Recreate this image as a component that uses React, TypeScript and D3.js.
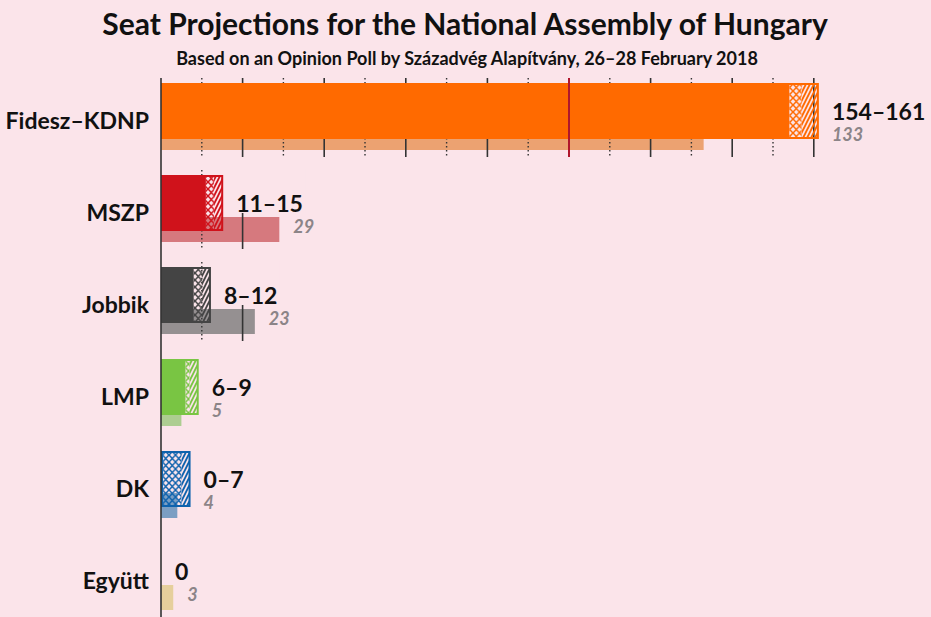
import React from 'react';
import * as d3 from 'd3';

const parties = ['Fidesz–KDNP', 'MSZP', 'Jobbik', 'LMP', 'DK', 'Együtt'];
const colors = ['#ff6a00', '#d0121b', '#444444', '#79c543', '#0e62ad', '#f2c95a'];
// 95% interval bounds and the split between the two hatched parts
const lowSeats = [154, 11, 8, 6, 0, 0];
const midSeats = [157, 13, 10, 7, 5, 0];
const highSeats = [161, 15, 12, 9, 7, 0];
const previousSeats = [133, 29, 23, 5, 4, 3];
const gridTicks = d3.range(0, 170, 10);
const majority = 100;

const W = 931;
const H = 617;
const BG = '#fbe4ea';
const FONT = 'Lato, "Open Sans", sans-serif';

export default function App() {
  const x = d3.scaleLinear().domain([0, 100]).range([161, 569]);
  const y = d3.scaleBand().domain(parties).range([83, 83 + parties.length * 92]);
  const barH = 56;
  const prevColor = (c: string) => d3.interpolateRgb(c, '#dcd4d6')(0.53);

  const rangeText = (i: number) =>
    lowSeats[i] === highSeats[i] ? `${lowSeats[i]}` : `${lowSeats[i]}–${highSeats[i]}`;

  return (
    <div style={{ position: 'absolute', left: 0, top: 0 }}>
      <svg width={W} height={H} viewBox={`0 0 ${W} ${H}`} style={{ display: 'block' }}>
        <defs>
          {parties.map((p, i) => (
            <React.Fragment key={p}>
              <pattern id={`cross${i}`} patternUnits="userSpaceOnUse" width={6.5} height={7}>
                <path d="M0,0 L6.5,7 M6.5,0 L0,7" stroke={colors[i]} strokeWidth={1.5} />
              </pattern>
              <pattern id={`diag${i}`} patternUnits="userSpaceOnUse" width={4} height={8}>
                <path d="M0,8 L4,0 M-1,2 L1,-2 M3,10 L5,6" stroke={colors[i]} strokeWidth={1.9} />
              </pattern>
            </React.Fragment>
          ))}
        </defs>
        <rect width={W} height={H} fill={BG} />

        <text x={465} y={35} textAnchor="middle" fontFamily={FONT} fontWeight="bold" fontSize={30} fill="#111">
          Seat Projections for the National Assembly of Hungary
        </text>
        <text x={467} y={65} textAnchor="middle" fontFamily={FONT} fontWeight="bold" fontSize={18} fill="#111">
          Based on an Opinion Poll by Századvég Alapítvány, 26–28 February 2018
        </text>

        {parties.map((p, i) => {
          const top = y(p) as number;
          const maxEnd = Math.max(highSeats[i], previousSeats[i]);
          const lines = gridTicks.filter((t) => t > 0 && t <= maxEnd);
          const labelX = x(highSeats[i]) + 14;
          const prevX = x(maxEnd) + 14;
          const label = rangeText(i);
          return (
            <g key={p}>
              <rect
                x={x(0)}
                y={top + 42}
                width={x(previousSeats[i]) - x(0)}
                height={25}
                fill={prevColor(colors[i])}
              />
              {lines.map((t) => (
                <line
                  key={t}
                  x1={x(t)}
                  x2={x(t)}
                  y1={top - 5}
                  y2={top + 74}
                  stroke="#333"
                  strokeWidth={t % 20 === 0 ? 1.6 : 1.4}
                  strokeDasharray={t % 20 === 0 ? null : '1.4,2.6'}
                />
              ))}
              {highSeats[i] > 0 && (
                <g>
                  <rect x={x(0)} y={top} width={x(lowSeats[i]) - x(0)} height={barH} fill={colors[i]} />
                  <rect
                    x={x(lowSeats[i])}
                    y={top}
                    width={x(midSeats[i]) - x(lowSeats[i])}
                    height={barH}
                    fill={`url(#cross${i})`}
                  />
                  <rect
                    x={x(midSeats[i])}
                    y={top}
                    width={x(highSeats[i]) - x(midSeats[i])}
                    height={barH}
                    fill={`url(#diag${i})`}
                  />
                  <rect
                    x={x(0) + 1}
                    y={top + 1}
                    width={x(highSeats[i]) - x(0) - 1}
                    height={barH - 2}
                    fill="none"
                    stroke={colors[i]}
                    strokeWidth={2}
                  />
                </g>
              )}
              {i === 0 && (
                <line x1={x(majority)} x2={x(majority)} y1={top - 5} y2={top + 74} stroke="#b0162c" strokeWidth={2} />
              )}
              <rect x={labelX - 4} y={top - 6} width={label.length * 13 + 8} height={44} fill={BG} />
              <text x={labelX} y={top + 37} fontFamily={FONT} fontWeight="bold" fontSize={23} fill="#111">
                {label}
              </text>
              <text
                x={prevX}
                y={top + 58}
                fontFamily={FONT}
                fontWeight="bold"
                fontStyle="italic"
                fontSize={18}
                fill="#8c8488"
              >
                {previousSeats[i]}
              </text>
              <text x={149} y={top + 46} textAnchor="end" fontFamily={FONT} fontWeight="bold" fontSize={23} fill="#111">
                {p}
              </text>
            </g>
          );
        })}

        <line x1={x(0)} x2={x(0)} y1={78} y2={H} stroke="#333" strokeWidth={1.6} />
      </svg>
    </div>
  );
}
